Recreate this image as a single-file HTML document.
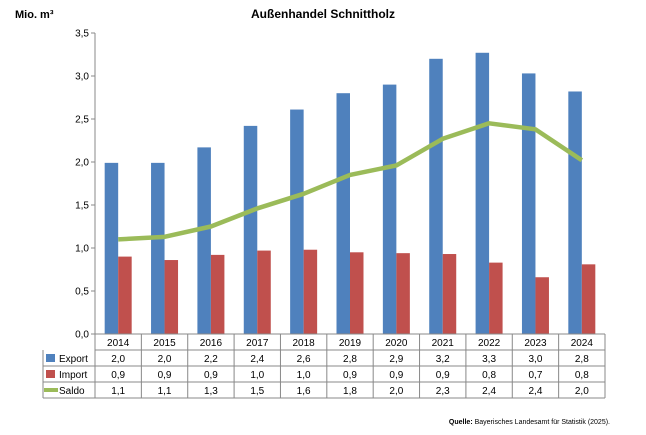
<!DOCTYPE html>
<html><head><meta charset="utf-8"><style>
body{margin:0;background:#fff;font-family:"Liberation Sans",sans-serif;}
svg text{font-family:"Liberation Sans",sans-serif;}
</style></head><body>
<svg id="c" width="646" height="430" xmlns="http://www.w3.org/2000/svg">
<text x="15" y="18" font-size="11" font-weight="bold">Mio. m³</text>
<text x="323" y="18" font-size="12" font-weight="bold" text-anchor="middle">Außenhandel Schnittholz</text>
<g id="grid"></g><g id="bars"></g><g id="line"></g><g id="table"></g>
<text x="610" y="424" font-size="7" text-anchor="end"><tspan font-weight="bold">Quelle:</tspan> Bayerisches Landesamt für Statistik (2025).</text>
</svg>
<script>
const years=["2014","2015","2016","2017","2018","2019","2020","2021","2022","2023","2024"];
const exportVals=[1.99,1.99,2.17,2.42,2.61,2.80,2.90,3.20,3.27,3.03,2.82];
const importVals=[0.90,0.86,0.92,0.97,0.98,0.95,0.94,0.93,0.83,0.66,0.81];
const saldoVals=[1.10,1.13,1.25,1.46,1.63,1.85,1.96,2.27,2.45,2.38,2.02];
const exportLabels=["2,0","2,0","2,2","2,4","2,6","2,8","2,9","3,2","3,3","3,0","2,8"];
const importLabels=["0,9","0,9","0,9","1,0","1,0","0,9","0,9","0,9","0,8","0,7","0,8"];
const saldoLabels=["1,1","1,1","1,3","1,5","1,6","1,8","2,0","2,3","2,4","2,4","2,0"];
const ticks=[0,0.5,1,1.5,2,2.5,3,3.5];
const tickLabels=["0,0","0,5","1,0","1,5","2,0","2,5","3,0","3,5"];
const NS="http://www.w3.org/2000/svg";
const X0=95,X1=605,Y0=334,Y1=33,YMAX=3.5;
const cw=(X1-X0)/years.length;
const y=v=>Y0-(v/YMAX)*(Y0-Y1);
const xc=i=>X0+cw*(i+0.5);
function mk(p,t,a){const e=document.createElementNS(NS,t);for(const k in a)e.setAttribute(k,a[k]);p.appendChild(e);return e;}
const g=document.getElementById('grid');
ticks.forEach((t,i)=>{
 const l=mk(g,'line',{x1:X0-4,x2:X0,y1:y(t),y2:y(t),stroke:'#888'});
 
 
 const tx=mk(g,'text',{x:X0-6,y:y(t)+3.5,'font-size':10,'text-anchor':'end'});tx.textContent=tickLabels[i];
 
 
});
const ax=mk(g,'line',{x1:X0,x2:X0,y1:Y1,y2:Y0,stroke:'#888'});


const b=document.getElementById('bars');
const bw=13.5;
years.forEach((yr,i)=>{
 const e=mk(b,'rect',{x:xc(i)-bw,y:y(exportVals[i]),width:bw,height:Y0-y(exportVals[i]),fill:'#4f81bd'});
 
 
 const m=mk(b,'rect',{x:xc(i),y:y(importVals[i]),width:bw,height:Y0-y(importVals[i]),fill:'#c0504d'});
 
 
});
const ln=mk(document.getElementById('line'),'polyline',{points:saldoVals.map((v,i)=>xc(i)+','+y(v)).join(' '),fill:'none',stroke:'#9bbb59','stroke-width':4.5,'stroke-linejoin':'round'});


// table
const tb=document.getElementById('table');
const rows=[["Export",exportLabels,'#4f81bd','rect'],["Import",importLabels,'#c0504d','rect'],["Saldo",saldoLabels,'#9bbb59','line']];
const RH=16,TX=43;
mk(tb,'line',{x1:X0,x2:X1,y1:Y0,y2:Y0,stroke:'#888'});
for(let r=0;r<=rows.length;r++){
 mk(tb,'line',{x1:r==0?X0:TX,x2:X1,y1:Y0+RH*(r+1),y2:Y0+RH*(r+1),stroke:'#888'});
}
mk(tb,'line',{x1:TX,x2:TX,y1:Y0+RH,y2:Y0+RH*4,stroke:'#888'});
for(let i=0;i<=years.length;i++){
 mk(tb,'line',{x1:X0+cw*i,x2:X0+cw*i,y1:Y0,y2:Y0+RH*4,stroke:'#888'});
}
years.forEach((yr,i)=>{
 const t=mk(tb,'text',{x:xc(i),y:Y0+12,'font-size':10,'text-anchor':'middle'});t.textContent=yr;
 
 
});
rows.forEach((row,r)=>{
 const ry=Y0+RH*(r+1);
 if(row[3]=='rect') mk(tb,'rect',{x:TX+3,y:ry+4,width:9,height:8,fill:row[2]});
 else mk(tb,'line',{x1:TX+1,x2:TX+15,y1:ry+8,y2:ry+8,stroke:row[2],'stroke-width':4});
 const lt=mk(tb,'text',{x:TX+16,y:ry+12,'font-size':10});lt.textContent=row[0];
 
 
 row[1].forEach((v,i)=>{
  const t=mk(tb,'text',{x:xc(i),y:ry+12,'font-size':10,'text-anchor':'middle'});t.textContent=v;
  
  
 });
});
</script>
</body></html>
